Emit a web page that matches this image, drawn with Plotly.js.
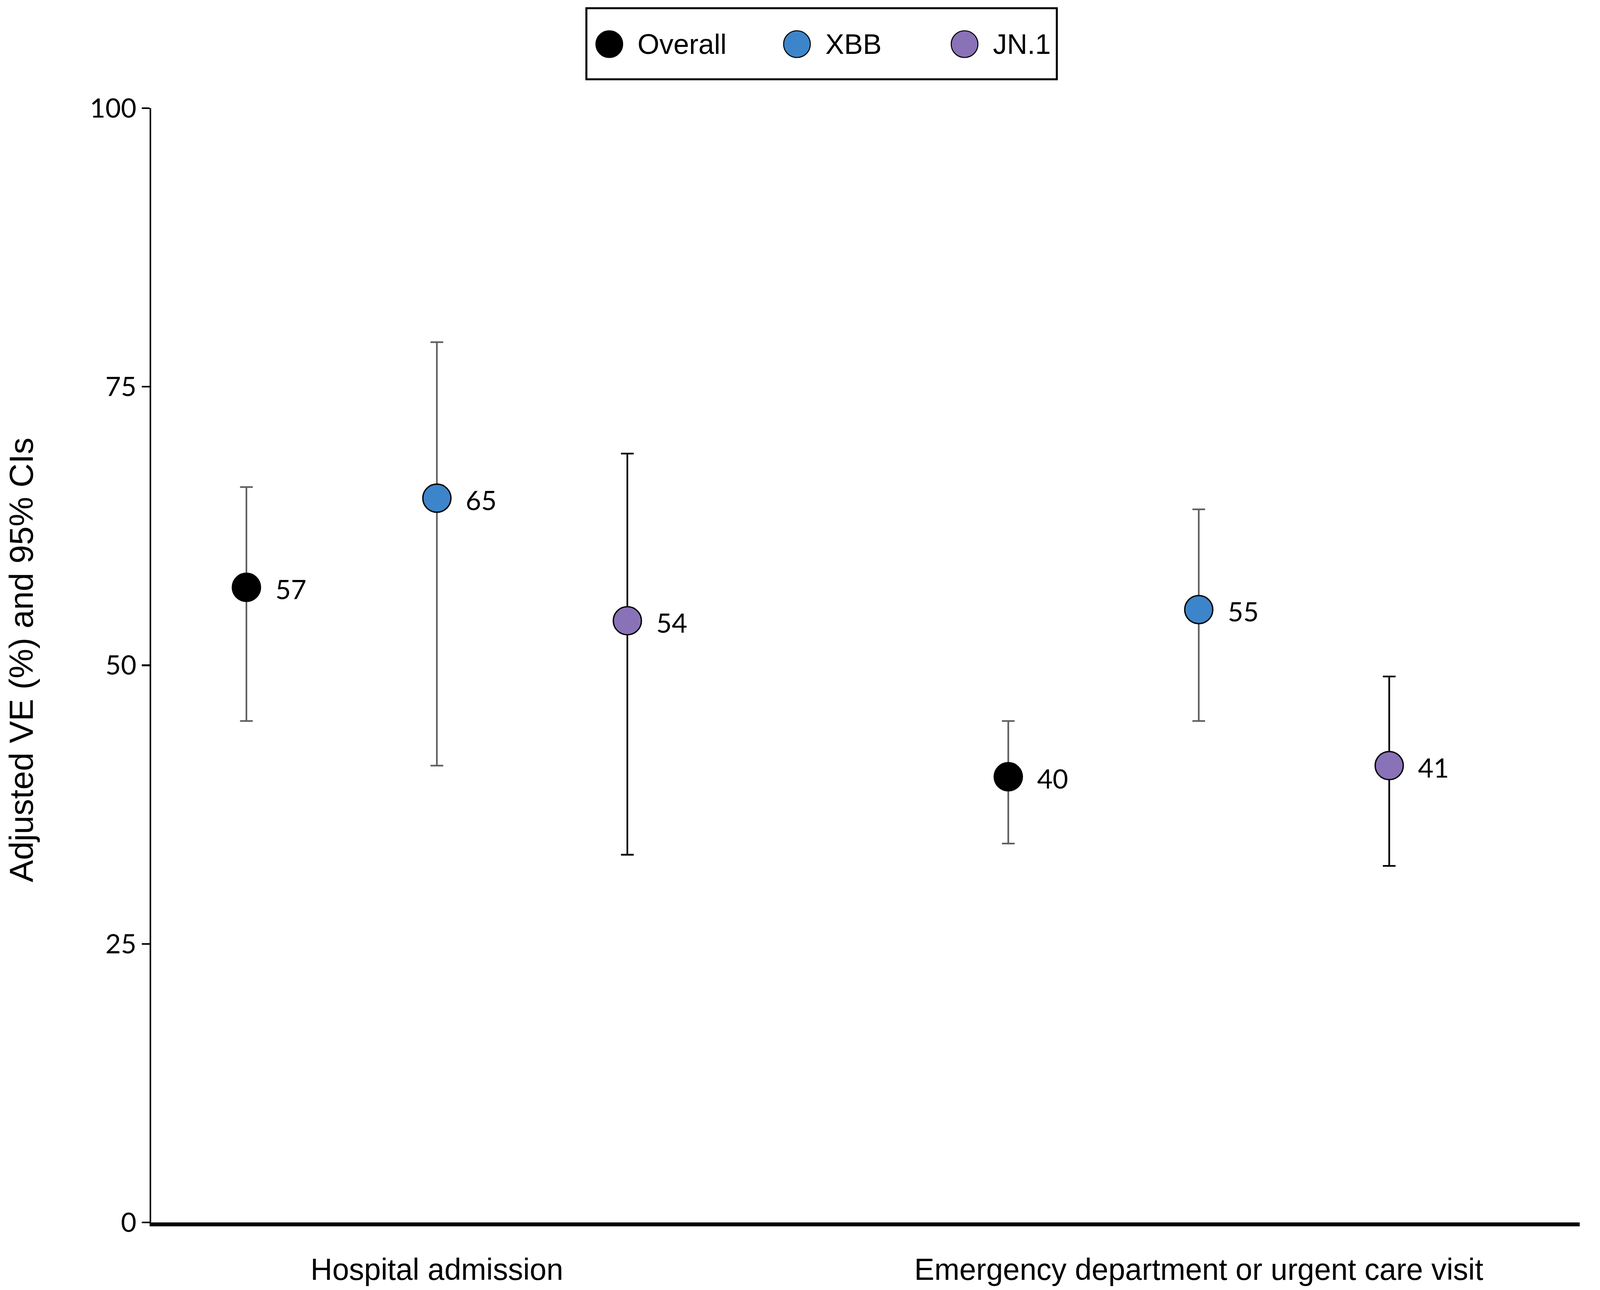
<!DOCTYPE html>
<html>
<head>
<meta charset="utf-8">
<script src="https://cdn.plot.ly/plotly-3.0.1.min.js"></script>
<style>
html,body{margin:0;padding:0;background:#fff;overflow:hidden;}
#chart{position:absolute;left:0;top:0;}
</style>
</head>
<body>
<div id="chart"></div>
<script>
// ---- data ----
const categories = ['Hospital admission', 'Emergency department or urgent care visit'];
const seriesNames = ['Overall', 'XBB', 'JN.1'];
const veOverall = [57, 40];
const veXBB = [65, 55];
const veJN1 = [54, 41];
const lowOverall = [45, 34];
const lowXBB = [41, 45];
const lowJN1 = [33, 32];
const upOverall = [66, 45];
const upXBB = [79, 64];
const upJN1 = [69, 49];
const yTicks = [0, 25, 50, 75, 100];
const yTitle = 'Adjusted VE (%) and 95% CIs';

// ---- styles ----
const fillColors = ['#000000', '#3D85CA', '#8A72B8'];
const errColors = ['#606060', '#606060', '#000000'];
const values = [veOverall, veXBB, veJN1];
const lows = [lowOverall, lowXBB, lowJN1];
const ups = [upOverall, upXBB, upJN1];

// layout designed in reference pixels, scaled to the actual window
const REFW = 5584, REFH = 3303;
const W = window.innerWidth || REFW, H = window.innerHeight || REFH;
const kx = W / REFW, ky = H / REFH, k = Math.sqrt(kx * ky);
const X = v => v * kx, Y = v => v * ky, S = v => v * k;

const M = {l: X(527), r: X(REFW - 5513), t: Y(277), b: Y(REFH - 3130), pad: 0};
const pw = W - M.l - M.r, ph = H - M.t - M.b;
const pxX = x => (x - M.l) / pw;           // actual px -> paper x
const pxY = y => (H - M.b - y) / ph;       // actual px -> paper y

const xOf = (c, s) => c * 4 + s + 0.5;

const traces = [];
const annotations = [];
for (let s = 0; s < seriesNames.length; s++) {
  const xs = categories.map((_, c) => xOf(c, s));
  traces.push({
    type: 'scatter', mode: 'markers', name: seriesNames[s],
    x: xs, y: values[s], showlegend: false, cliponaxis: false,
    marker: {size: S(84), color: fillColors[s], line: {color: '#000', width: S(4)}},
    error_y: {
      type: 'data', symmetric: false,
      array: values[s].map((v, i) => ups[s][i] - v),
      arrayminus: values[s].map((v, i) => v - lows[s][i]),
      color: errColors[s], thickness: S(5), width: S(19)
    },
    hoverinfo: 'skip'
  });
  xs.forEach((x, i) => {
    annotations.push({
      xref: 'x', yref: 'y', x: x, y: values[s][i], text: String(values[s][i]),
      showarrow: false, xanchor: 'left', yanchor: 'middle', xshift: X(98), yshift: -Y(4),
      font: {family: 'Lato, "Open Sans", sans-serif', size: S(80), color: '#000'}
    });
  });
}

// y-axis title (rotated: its length runs along the vertical scale)
annotations.push({xref: 'paper', yref: 'paper', x: pxX(X(73)), y: pxY(Y(1690)),
  xanchor: 'center', yanchor: 'middle', textangle: -90, showarrow: false, text: yTitle,
  font: {family: 'Liberation Sans, Arial, sans-serif', size: 88 * ky * 0.97, color: '#000'}});

// ---- custom legend (large markers) ----
const shapes = [];
const legBox = {x0: 2046, x1: 3688, y0: 21, y1: 203};
shapes.push({type: 'rect', xref: 'paper', yref: 'paper',
  x0: pxX(X(legBox.x0)), x1: pxX(X(legBox.x1)), y0: pxY(Y(legBox.y1)), y1: pxY(Y(legBox.y0)),
  line: {color: '#000', width: S(6)}, fillcolor: 'rgba(0,0,0,0)'});
const legCx = [2126, 2781, 3366];
const legCy = 113, legR = 40;
for (let s = 0; s < seriesNames.length; s++) {
  const cx = X(legCx[s]), cy = Y(legCy), r = S(legR);
  shapes.push({type: 'circle', xref: 'paper', yref: 'paper',
    x0: pxX(cx - r), x1: pxX(cx + r), y0: pxY(cy + r), y1: pxY(cy - r),
    fillcolor: fillColors[s], line: {color: '#000', width: S(3)}});
  annotations.push({xref: 'paper', yref: 'paper', x: pxX(X(legCx[s] + 96)), y: pxY(cy),
    xanchor: 'left', yanchor: 'middle', showarrow: false, text: seriesNames[s],
    font: {family: 'Liberation Sans, Arial, sans-serif', size: S(84), color: '#000'}});
}

const layout = {
  width: W, height: H,
  margin: M,
  paper_bgcolor: '#fff', plot_bgcolor: '#fff',
  showlegend: false,
  font: {family: 'Liberation Sans, Arial, sans-serif', color: '#000'},
  xaxis: {
    range: [0, 7.5], showgrid: false, zeroline: false,
    showline: true, linecolor: '#000', linewidth: S(12),
    tickmode: 'array', tickvals: categories.map((_, c) => xOf(c, 1)), ticktext: categories,
    ticks: '', ticklabelstandoff: Y(44),
    tickfont: {family: 'Liberation Sans, Arial, sans-serif', size: S(90), color: '#000'},
    fixedrange: true
  },
  yaxis: {
    range: [0, 100], showgrid: false, zeroline: false,
    showline: true, linecolor: '#000', linewidth: S(5),
    tickmode: 'array', tickvals: yTicks, ticktext: yTicks.map(String),
    ticks: 'outside', ticklen: X(27), tickwidth: S(5), tickcolor: '#000',
    ticklabelstandoff: X(55),
    tickfont: {family: 'Lato, "Open Sans", sans-serif', size: S(80), color: '#000'},
    fixedrange: true
  },
  shapes: shapes,
  annotations: annotations
};

Plotly.newPlot('chart', traces, layout, {staticPlot: true, displayModeBar: false});
</script>
</body>
</html>
